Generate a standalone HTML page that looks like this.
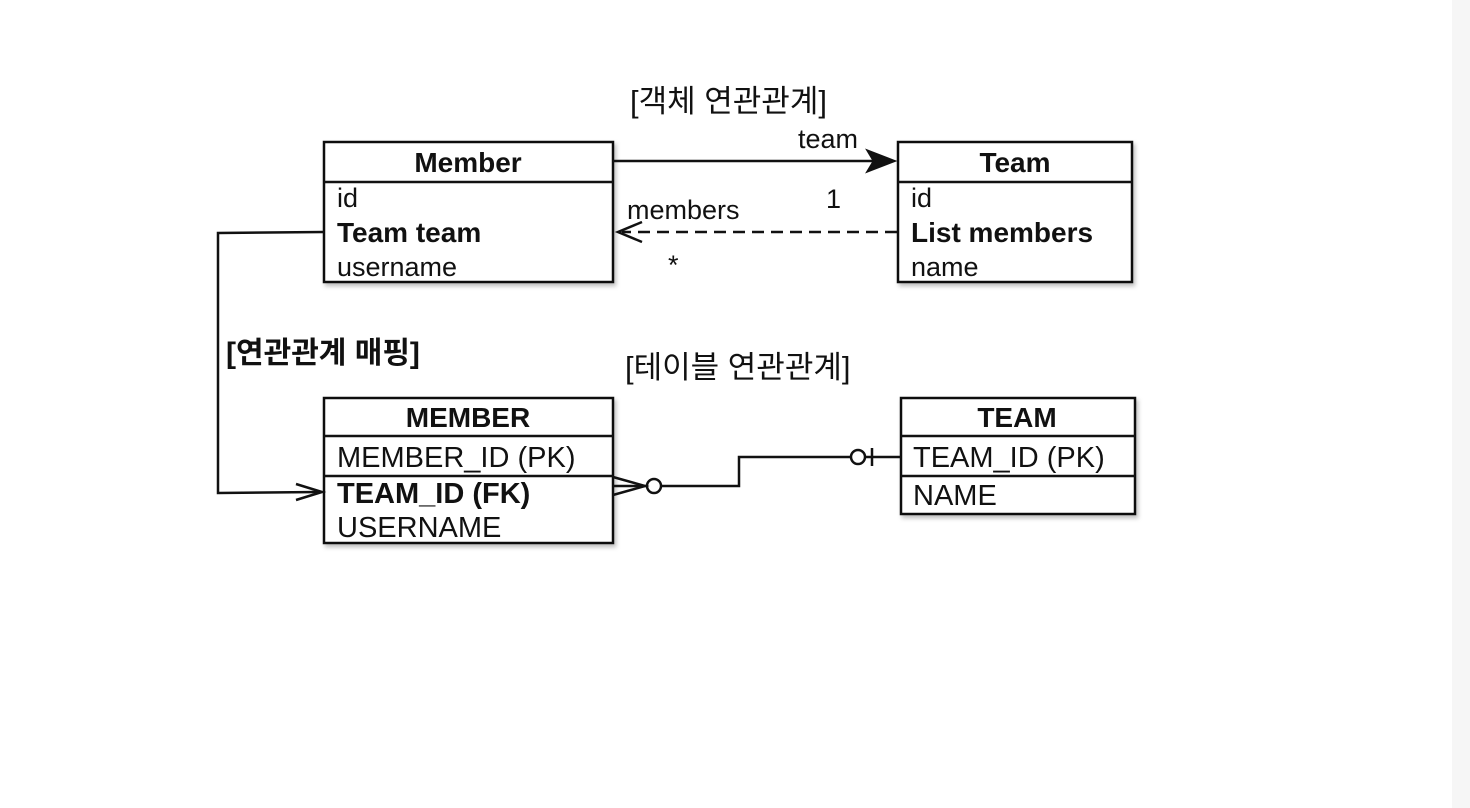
<!DOCTYPE html>
<html><head><meta charset="utf-8"><style>
html,body{margin:0;padding:0;background:#fff;width:1470px;height:808px;overflow:hidden}
svg{display:block}
text{font-family:"Liberation Sans","Noto Sans CJK KR",sans-serif;fill:#111}
.b{font-weight:bold}
</style></head><body>
<svg width="1470" height="808" viewBox="0 0 1470 808">
<rect x="1452" y="0" width="18" height="808" fill="#f6f6f6"/>
<defs><filter id="s" x="-5%" y="-5%" width="115%" height="120%"><feDropShadow dx="2" dy="3" stdDeviation="2" flood-color="#000" flood-opacity="0.25"/></filter></defs>
<g stroke="#111" stroke-width="2.5" fill="#fff">
<rect x="324" y="142" width="289" height="140" filter="url(#s)"/>
<line x1="324" y1="182" x2="613" y2="182"/>
<rect x="898" y="142" width="234" height="140" filter="url(#s)"/>
<line x1="898" y1="182" x2="1132" y2="182"/>
<rect x="324" y="398" width="289" height="145" filter="url(#s)"/>
<line x1="324" y1="436" x2="613" y2="436"/>
<line x1="324" y1="476" x2="613" y2="476"/>
<rect x="901" y="398" width="234" height="116" filter="url(#s)"/>
<line x1="901" y1="436" x2="1135" y2="436"/>
<line x1="901" y1="476" x2="1135" y2="476"/>
</g>
<g stroke="#111" stroke-width="2.5" fill="none">
<line x1="613" y1="161" x2="890" y2="161"/>
<polygon points="894,161 868,151 874,161 868,171" fill="#111"/>
<line x1="897" y1="232" x2="622" y2="232" stroke-dasharray="12,7"/>
<polyline points="642,222 618,232 642,242"/>
<polyline points="324,232 218,233 218,493 318,492"/>
<polyline points="296,484 322,492 296,500"/>
<polyline points="613,477 645,486 613,495"/>
<line x1="613" y1="486" x2="647" y2="486"/>
<circle cx="654" cy="486" r="7"/>
<polyline points="661,486 739,486 739,457 851,457"/>
<circle cx="858" cy="457" r="7"/>
<line x1="872" y1="448" x2="872" y2="466"/>
<line x1="865" y1="457" x2="901" y2="457"/>
</g>
<text x="630" y="112" font-size="31">[객체 연관관계]</text>
<text x="625" y="378" font-size="31">[테이블 연관관계]</text>
<text x="226" y="363" font-size="30" class="b">[연관관계 매핑]</text>
<text x="798" y="148" font-size="27">team</text>
<text x="627" y="219" font-size="27">members</text>
<text x="826" y="208" font-size="27">1</text>
<text x="668" y="274" font-size="27">*</text>
<text x="468" y="172" font-size="28" class="b" text-anchor="middle">Member</text>
<text x="337" y="207" font-size="27">id</text>
<text x="337" y="242" font-size="28" class="b">Team team</text>
<text x="337" y="276" font-size="27">username</text>
<text x="1015" y="172" font-size="28" class="b" text-anchor="middle">Team</text>
<text x="911" y="207" font-size="27">id</text>
<text x="911" y="242" font-size="28" class="b">List members</text>
<text x="911" y="276" font-size="27">name</text>
<text x="468" y="427" font-size="28" class="b" text-anchor="middle">MEMBER</text>
<text x="337" y="467" font-size="29">MEMBER_ID (PK)</text>
<text x="337" y="503" font-size="29" class="b">TEAM_ID (FK)</text>
<text x="337" y="537" font-size="29">USERNAME</text>
<text x="1017" y="427" font-size="28" class="b" text-anchor="middle">TEAM</text>
<text x="913" y="467" font-size="29">TEAM_ID (PK)</text>
<text x="913" y="505" font-size="29">NAME</text>
</svg>
</body></html>
